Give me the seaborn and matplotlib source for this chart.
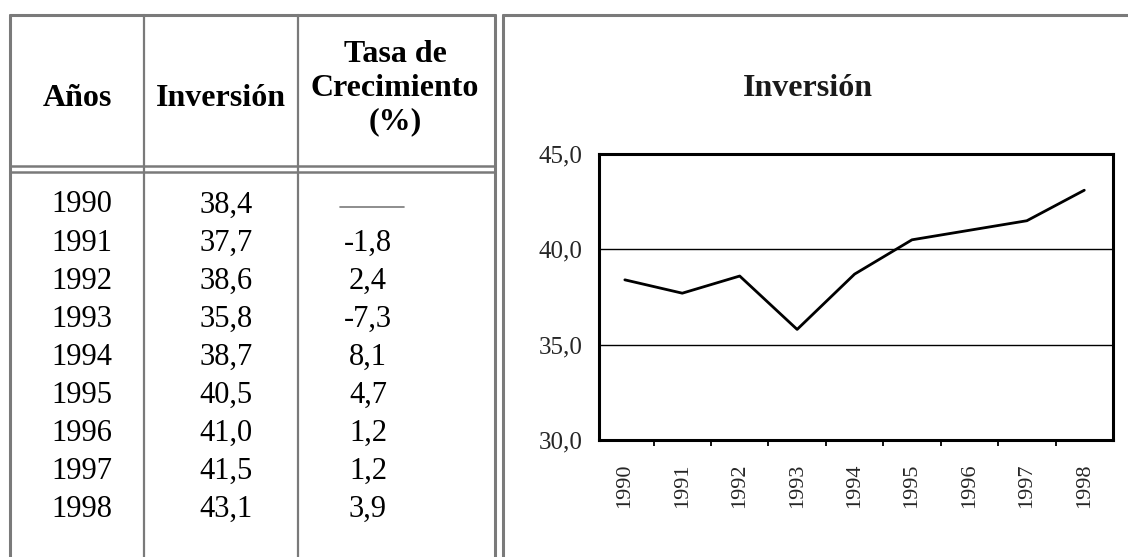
import numpy as np
import pandas as pd
import seaborn as sns
import matplotlib.pyplot as plt
from matplotlib.ticker import FixedLocator

# data from the table
years = ['1990', '1991', '1992', '1993', '1994', '1995', '1996', '1997', '1998']
inversion = [38.4, 37.7, 38.6, 35.8, 38.7, 40.5, 41.0, 41.5, 43.1]
crecimiento = [None, -1.8, 2.4, -7.3, 8.1, 4.7, 1.2, 1.2, 3.9]
y_ticks = [30, 35, 40, 45]


def coma(v):
    return f'{v:.1f}'.replace('.', ',')


sns.set_theme(style='white')
plt.rcParams['font.family'] = ['Liberation Serif', 'DejaVu Serif']

fig = plt.figure(figsize=(11.28, 5.57), dpi=100)

# background layer in pixel coordinates for the table and the frames
bg = fig.add_axes([0, 0, 1, 1])
bg.set_xlim(0, 1128)
bg.set_ylim(557, 0)
bg.axis('off')

gris = '#7a7a7a'
# table frame
bg.plot([10, 10], [15, 557], color=gris, lw=2.2)
bg.plot([10, 495], [15, 15], color=gris, lw=2.2)
bg.plot([495, 495], [15, 557], color=gris, lw=2.2)
bg.plot([144, 144], [15, 557], color=gris, lw=1.6)
bg.plot([298, 298], [15, 557], color=gris, lw=1.6)
bg.plot([10, 495], [166, 166], color=gris, lw=1.8)
bg.plot([10, 495], [172, 172], color=gris, lw=1.8)
# chart frame
bg.plot([503, 503], [15, 557], color=gris, lw=2.2)
bg.plot([503, 1128], [15, 15], color=gris, lw=2.2)

# table header
hdr = dict(ha='center', va='center', fontsize=23, fontweight='bold', color='black')
bg.text(77, 99, 'Años', **hdr)
bg.text(221, 98, 'Inversión', **hdr)
bg.text(395, 88, 'Tasa de\nCrecimiento\n(%)', linespacing=1.2, multialignment='center', **hdr)

# table body
row0, step = 205, 38.1
for i, yr in enumerate(years):
    y = row0 + i * step
    bg.text(82, y, yr, ha='center', va='center', fontsize=22, color='black')
    bg.text(226, y, coma(inversion[i]), ha='center', va='center', fontsize=22, color='black')
    if crecimiento[i] is None:
        bg.plot([340, 404], [y + 2, y + 2], color=gris, lw=1.2)
    else:
        bg.text(368, y, coma(crecimiento[i]), ha='center', va='center', fontsize=22, color='black')

# chart title
bg.text(808, 88, 'Inversión', ha='center', va='center', fontsize=23, fontweight='bold', color='#1a1a1a')

# line chart
df = pd.DataFrame({'pos': np.arange(len(years)), 'inversion': inversion})
ax = fig.add_axes([599 / 1128, 117 / 557, 514 / 1128, 286 / 557])
sns.lineplot(data=df, x='pos', y='inversion', ax=ax, color='black', lw=2.0)
ax.set_xlim(-0.45, len(years) - 0.5)
ax.set_ylim(30, 45)
ax.set_xlabel('')
ax.set_ylabel('')
ax.set_facecolor('white')

ax.set_yticks(y_ticks)
ax.set_yticklabels([coma(v) for v in y_ticks], fontsize=18)
ax.tick_params(axis='y', length=0, pad=12)
ax.yaxis.grid(True, color='black', lw=1.0)
ax.xaxis.grid(False)

ax.set_xticks(df['pos'])
ax.set_xticklabels(years, rotation=90, fontsize=16)
ax.xaxis.set_minor_locator(FixedLocator(np.arange(len(years) - 1) + 0.5))
ax.tick_params(axis='x', which='major', length=0, pad=17)
ax.tick_params(axis='x', which='minor', bottom=True, length=4, width=1.3, direction='out', color='black')

for s in ax.spines.values():
    s.set_color('black')
    s.set_linewidth(2.2)

plt.savefig('out.png', dpi=100)
